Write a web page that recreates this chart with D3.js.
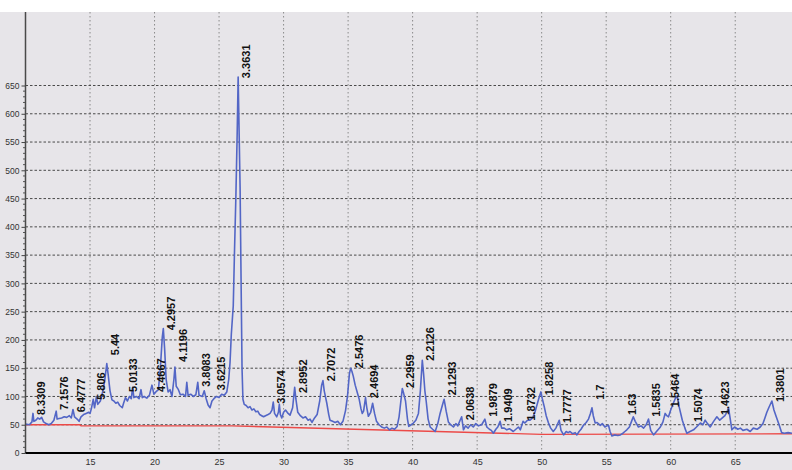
<!DOCTYPE html>
<html>
<head>
<meta charset="utf-8">
<script src="https://cdn.jsdelivr.net/npm/d3@7"></script>
<style>
    body { margin: 0; background: #ffffff; }
    #chart { width: 792px; height: 470px; overflow: hidden; }
</style>
</head>
<body>
<div id="chart"></div>
<script>
// Diffraction profile (2-theta, counts)
const twoTheta = [
    10.0, 10.3, 10.5, 10.58, 10.65, 10.8, 10.95, 11.1, 11.25, 11.4, 11.6, 11.8, 12.0, 12.2, 12.38, 12.45,
    12.6, 12.8, 13.0, 13.2, 13.4, 13.55, 13.68, 13.8, 14.0, 14.15, 14.3, 14.5, 14.7, 14.9, 15.0, 15.1,
    15.25, 15.35, 15.5, 15.6, 15.8, 16.0, 16.15, 16.3, 16.4, 16.55, 16.7, 16.85, 17.0, 17.15, 17.3, 17.5,
    17.6, 17.75, 17.9, 18.05, 18.2, 18.3, 18.4, 18.6, 18.8, 18.95, 19.05, 19.2, 19.4, 19.6, 19.8, 19.95,
    20.1, 20.3, 20.45, 20.6, 20.68, 20.78, 20.9, 21.05, 21.2, 21.35, 21.5, 21.58, 21.68, 21.85, 22.0, 22.2,
    22.4, 22.5, 22.6, 22.8, 23.0, 23.2, 23.35, 23.45, 23.7, 23.85, 24.0, 24.15, 24.3, 24.45, 24.6, 24.8,
    25.0, 25.2, 25.4, 25.6, 25.75, 25.85, 25.95, 26.1, 26.2, 26.3, 26.4, 26.48, 26.56, 26.63, 26.7, 26.78,
    26.85, 26.95, 27.1, 27.25, 27.4, 27.55, 27.7, 27.85, 28.0, 28.15, 28.3, 28.45, 28.6, 28.8, 28.95, 29.1,
    29.2, 29.3, 29.47, 29.6, 29.67, 29.75, 29.86, 30.0, 30.15, 30.35, 30.5, 30.7, 30.86, 30.95, 31.1, 31.3,
    31.5, 31.7, 31.9, 32.05, 32.2, 32.4, 32.6, 32.8, 32.95, 33.05, 33.15, 33.35, 33.5, 33.6, 33.8, 34.0,
    34.2, 34.4, 34.6, 34.8, 34.95, 35.1, 35.2, 35.3, 35.4, 35.55, 35.7, 35.85, 36.0, 36.1, 36.2, 36.35,
    36.45, 36.57, 36.75, 36.9, 37.05, 37.2, 37.4, 37.6, 37.8, 38.0, 38.2, 38.4, 38.6, 38.8, 38.95, 39.05,
    39.2, 39.3, 39.45, 39.6, 39.7, 39.9, 40.06, 40.25, 40.45, 40.6, 40.75, 40.85, 40.95, 41.05, 41.2, 41.36,
    41.55, 41.75, 41.95, 42.13, 42.3, 42.44, 42.6, 42.77, 42.95, 43.16, 43.35, 43.5, 43.68, 43.8, 43.94, 44.1,
    44.3, 44.5, 44.7, 44.9, 45.1, 45.35, 45.6, 45.75, 45.95, 46.1, 46.26, 46.45, 46.6, 46.78, 46.9, 47.1,
    47.3, 47.5, 47.8, 48.0, 48.2, 48.35, 48.56, 48.7, 48.9, 49.1, 49.3, 49.5, 49.65, 49.8, 49.94, 50.05,
    50.2, 50.35, 50.53, 50.7, 50.9, 51.1, 51.36, 51.5, 51.7, 51.9, 52.05, 52.2, 52.4, 52.6, 52.73, 52.9,
    53.05, 53.24, 53.45, 53.63, 53.78, 53.9, 54.0, 54.15, 54.3, 54.54, 54.7, 54.9, 55.05, 55.18, 55.3, 55.44,
    55.65, 55.9, 56.1, 56.3, 56.45, 56.6, 56.8, 56.95, 57.1, 57.25, 57.5, 57.7, 57.9, 58.1, 58.28, 58.45,
    58.67, 58.9, 59.05, 59.2, 59.4, 59.57, 59.7, 59.83, 60.0, 60.2, 60.35, 60.5, 60.65, 60.9, 61.1, 61.25,
    61.5, 61.77, 62.0, 62.3, 62.5, 62.67, 62.85, 63.06, 63.3, 63.58, 63.8, 64.0, 64.2, 64.35, 64.48, 64.6,
    64.74, 64.95, 65.2, 65.4, 65.6, 65.9, 66.16, 66.4, 66.7, 66.94, 67.15, 67.3, 67.45, 67.6, 67.84, 68.0,
    68.18, 68.4, 68.6, 68.8, 69.1, 69.4
];
const counts = [
    51, 50, 55, 70, 56, 58, 62, 60, 63, 55, 52, 50, 52, 58, 74, 60,
    61, 62, 64, 63, 66, 62, 77, 64, 60, 56, 64, 68, 70, 72, 70, 78,
    95, 80, 100, 86, 92, 110, 130, 158, 140, 110, 94, 92, 88, 90, 84, 80,
    88, 98, 92, 100, 96, 116, 98, 100, 96, 112, 98, 100, 97, 102, 120, 104,
    108, 112, 150, 205, 220, 185, 130, 108, 112, 100, 130, 152, 118, 112, 103, 104,
    100, 125, 102, 104, 100, 103, 125, 102, 100, 110, 96, 85, 80, 92, 96, 100,
    98, 104, 102, 108, 130, 160, 210, 260, 360, 450, 560, 665, 560, 470, 318, 150,
    95, 86, 84, 80, 82, 76, 78, 73, 74, 68, 66, 64, 66, 68, 70, 76,
    90, 70, 64, 72, 86, 68, 62, 72, 76, 70, 67, 80, 116, 96, 72, 66,
    62, 64, 58, 60, 54, 62, 68, 92, 120, 128, 110, 88, 68, 58, 56, 54,
    56, 50, 56, 75, 100, 140, 150, 144, 136, 120, 108, 96, 78, 70, 74, 98,
    80, 65, 72, 88, 70, 56, 50, 46, 44, 46, 41, 44, 42, 47, 64, 84,
    114, 106, 92, 60, 47, 50, 53, 58, 70, 110, 164, 140, 110, 92, 60, 46,
    42, 38, 52, 70, 84, 95, 74, 55, 50, 46, 52, 48, 58, 64, 41, 48,
    44, 50, 46, 52, 48, 50, 60, 46, 42, 40, 35, 42, 46, 56, 44, 44,
    41, 43, 38, 42, 46, 41, 56, 53, 58, 58, 62, 74, 86, 98, 108, 96,
    82, 66, 53, 44, 38, 44, 58, 40, 32, 38, 36, 38, 34, 36, 32, 38,
    42, 49, 54, 60, 70, 80, 66, 53, 54, 49, 52, 46, 48, 49, 38, 30,
    32, 31, 32, 35, 38, 41, 46, 55, 64, 56, 46, 48, 44, 50, 60, 40,
    32, 38, 42, 46, 55, 70, 66, 64, 76, 88, 96, 101, 82, 58, 44, 35,
    38, 41, 46, 53, 50, 58, 52, 46, 55, 64, 58, 62, 66, 72, 80, 62,
    41, 46, 42, 44, 40, 42, 38, 44, 42, 46, 52, 62, 72, 80, 92, 76,
    64, 50, 36, 35, 36, 35
];

// Background line (red)
const bgTheta = [10, 14.2, 14.3, 26, 50, 69.4];
const bgCounts = [50, 50, 48, 48, 33, 34];

// Peak labels: d-spacing, peak position and where the label starts
const peakLabels = [
    "8.3309", "7.1576", "6.4777", "5.806", "5.44", "5.0133", "4.4667", "4.2957", "4.1196", "3.8083", "3.6215",
    "3.3631", "3.0574", "2.8952", "2.7072", "2.5476", "2.4694", "2.2959", "2.2126", "2.1293", "2.0638",
    "1.9879", "1.9409", "1.8732", "1.8258", "1.7777", "1.7", "1.63", "1.5835", "1.5464", "1.5074", "1.4623", "1.3801"
];
const peakTheta = [
    10.61, 12.36, 13.66, 15.25, 16.28, 17.68, 19.86, 20.66, 21.55, 23.34, 24.56,
    26.48, 29.19, 30.86, 33.06, 35.20, 36.35, 39.21, 40.75, 42.42, 43.83,
    45.60, 46.77, 48.56, 49.91, 51.36, 53.89, 56.40, 58.21, 59.75, 61.46, 63.57, 67.86
];
const labelBase = [
    67, 76, 72, 94, 173, 108, 108, 217, 161, 117, 111,
    663, 87, 106, 127, 150, 97, 115, 163, 102, 58,
    64, 55, 57, 102, 53, 94, 67, 64, 81, 55, 67, 90
];

// Axis ticks
const yMajor = d3.range(0, 651, 50);
const yMinor = d3.range(0, 651, 10).filter(v => v % 50 !== 0);
const xTicks = [15, 20, 25, 30, 35, 40, 45, 50, 55, 60, 65];

drawChart();

function drawChart() {
    const width = 792, height = 470;
    const plotTop = 12, plotLeft = 25.5, plotBottom = 453;

    const svg = d3.select("#chart").append("svg")
        .attr("width", width)
        .attr("height", height);

    const x = d3.scaleLinear().domain([10, 69.4]).range([plotLeft, width]);
    const y = d3.scaleLinear().domain([0, 780]).range([plotBottom, plotTop]);

    // Grey panel below the white strip
    svg.append("rect")
        .attr("x", 0).attr("y", plotTop)
        .attr("width", width).attr("height", height - plotTop)
        .attr("fill", "#e7e5e9");

    // Vertical grid (dotted)
    svg.append("g")
        .selectAll("line")
        .data(xTicks)
        .enter()
        .append("line")
        .attr("x1", d => x(d)).attr("x2", d => x(d))
        .attr("y1", plotTop).attr("y2", plotBottom)
        .attr("stroke", "#8a8a8a")
        .attr("stroke-width", 1)
        .attr("stroke-dasharray", "1.5,2.5");

    // Horizontal grid (dashed)
    svg.append("g")
        .selectAll("line")
        .data(yMajor.filter(v => v > 0))
        .enter()
        .append("line")
        .attr("x1", plotLeft).attr("x2", width)
        .attr("y1", d => y(d)).attr("y2", d => y(d))
        .attr("stroke", "#4a4a4a")
        .attr("stroke-width", 1)
        .attr("stroke-dasharray", "2.5,2");

    // Background curve
    const bgLine = d3.line()
        .x((d, i) => x(bgTheta[i]))
        .y(d => y(d));
    svg.append("path")
        .datum(bgCounts)
        .attr("fill", "none")
        .attr("stroke", "#ec4a48")
        .attr("stroke-width", 1.4)
        .attr("d", bgLine);

    // Measured pattern
    const line = d3.line()
        .x((d, i) => x(twoTheta[i]))
        .y(d => y(d));
    svg.append("path")
        .datum(counts)
        .attr("fill", "none")
        .attr("stroke", "#5366c6")
        .attr("stroke-width", 1.6)
        .attr("stroke-linejoin", "round")
        .attr("d", line);

    // Peak labels, rotated to read bottom-up
    svg.append("g")
        .selectAll("text")
        .data(peakLabels)
        .enter()
        .append("text")
        .attr("transform", (d, i) => `translate(${x(peakTheta[i]) + 8},${y(labelBase[i])}) rotate(-90)`)
        .attr("dominant-baseline", "central")
        .attr("font-family", "'Liberation Sans', Arial, sans-serif")
        .attr("font-weight", "bold")
        .attr("font-size", "11px")
        .attr("fill", "#111")
        .text(d => d);

    // Y axis with minor ticks
    const yAxis = d3.axisLeft(y).tickValues(yMajor).tickSize(4).tickPadding(2);
    const yg = svg.append("g")
        .attr("transform", `translate(${plotLeft},0)`)
        .call(yAxis);
    yg.select(".domain").remove();
    yg.selectAll(".tick line").attr("stroke", "#444");
    yg.selectAll("text")
        .attr("fill", "#333")
        .attr("font-family", "'Liberation Sans', Arial, sans-serif")
        .attr("font-size", "8.5px");

    svg.append("g")
        .selectAll("line")
        .data(yMinor)
        .enter()
        .append("line")
        .attr("x1", plotLeft - 2.5).attr("x2", plotLeft)
        .attr("y1", d => y(d)).attr("y2", d => y(d))
        .attr("stroke", "#555");

    svg.append("line")
        .attr("x1", plotLeft).attr("x2", plotLeft)
        .attr("y1", plotTop).attr("y2", plotBottom)
        .attr("stroke", "#4a4a4a")
        .attr("stroke-width", 1.5);

    // X axis: heavy black baseline, labels only
    const xAxis = d3.axisBottom(x).tickValues(xTicks).tickSize(0).tickPadding(6);
    const xg = svg.append("g")
        .attr("transform", `translate(0,${plotBottom})`)
        .call(xAxis);
    xg.select(".domain").remove();
    xg.selectAll("text")
        .attr("fill", "#333")
        .attr("font-family", "'Liberation Sans', Arial, sans-serif")
        .attr("font-size", "9px");

    svg.append("line")
        .attr("x1", plotLeft).attr("x2", width)
        .attr("y1", plotBottom).attr("y2", plotBottom)
        .attr("stroke", "#000")
        .attr("stroke-width", 2);
}
</script>
</body>
</html>
